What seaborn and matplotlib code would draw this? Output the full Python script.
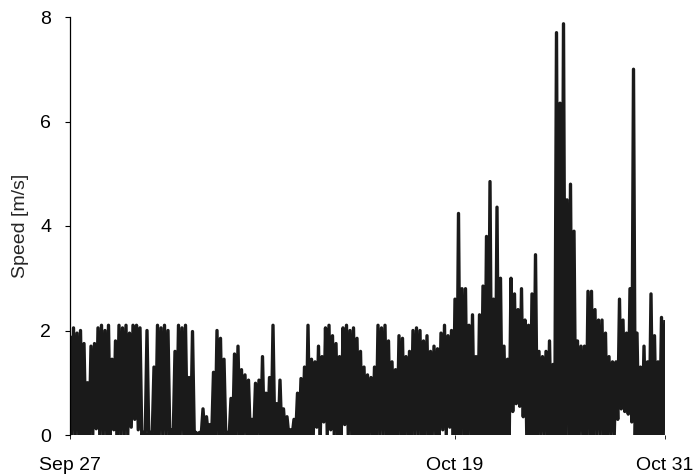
import numpy as np
import pandas as pd
import matplotlib
matplotlib.use("Agg")
import matplotlib.pyplot as plt
import seaborn as sns

# ---- data ----
start_date = "2012-09-27"
end_date = "2012-10-31"
# upper swing of the speed signal, one value every 0.2 day
peak_speed = [
    1.9, 2.05, 1.95, 2.0, 1.75, 1.0, 1.7, 1.75, 2.05, 2.1,
    2.0, 2.1, 1.45, 1.8, 2.1, 2.05, 2.1, 1.95, 2.1, 2.1,
    2.05, 0.05, 2.0, 0.05, 1.3, 2.1, 2.05, 2.1, 2.0, 0.1,
    1.6, 2.1, 2.05, 2.1, 1.1, 1.98, 0.05, 0.05, 0.5, 0.35,
    0.2, 1.2, 2.0, 1.85, 1.45, 0.05, 0.7, 1.55, 1.7, 1.25,
    1.15, 1.05, 0.3, 0.99, 1.05, 1.5, 0.8, 1.1, 2.1, 0.6,
    1.05, 0.5, 0.35, 0.1, 0.3, 0.8, 1.08, 1.3, 2.1, 1.45,
    1.4, 1.7, 1.5, 2.05, 2.1, 1.9, 1.75, 1.5, 2.05, 2.1,
    2.0, 2.05, 1.85, 1.6, 1.3, 1.15, 1.1, 1.3, 2.1, 2.05,
    2.1, 1.8, 1.4, 1.25, 1.9, 1.85, 1.5, 1.6, 2.0, 2.05,
    2.0, 1.8, 1.9, 1.6, 1.7, 1.65, 1.95, 2.1, 1.9, 2.0,
    2.6, 4.24, 2.8, 2.8, 2.1, 2.3, 1.5, 2.3, 2.85, 3.8,
    4.85, 2.6, 4.36, 3.0, 1.7, 1.45, 3.0, 2.7, 2.4, 2.8,
    2.2, 2.1, 2.7, 3.45, 1.6, 1.5, 1.6, 1.8, 1.35, 7.7,
    6.35, 7.87, 4.5, 4.8, 3.9, 1.8, 1.7, 1.7, 2.75, 2.75,
    2.4, 2.2, 2.2, 1.95, 1.5, 1.4, 1.4, 2.6, 2.2, 1.95,
    2.8, 7.0, 1.95, 1.3, 1.7, 1.4, 2.7, 1.9, 1.4, 2.25,
    2.2,
]
# lower swing, between consecutive peaks
trough_speed = [
    0.0, 0.0, 0.0, 0.0, 0.0, 0.0, 0.0, 0.12, 0.0, 0.0,
    0.0, 0.0, 0.1, 0.0, 0.0, 0.0, 0.0, 0.15, 0.3, 0.1,
    0.0, 0.0, 0.0, 0.0, 0.0, 0.0, 0.0, 0.0, 0.0, 0.0,
    0.0, 0.0, 0.0, 0.0, 0.0, 0.0, 0.0, 0.0, 0.0, 0.0,
    0.0, 0.0, 0.0, 0.0, 0.0, 0.0, 0.0, 0.0, 0.0, 0.0,
    0.0, 0.0, 0.0, 0.0, 0.0, 0.0, 0.0, 0.0, 0.0, 0.0,
    0.0, 0.0, 0.0, 0.0, 0.0, 0.0, 0.0, 0.0, 0.0, 0.0,
    0.15, 0.0, 0.25, 0.0, 0.1, 0.0, 0.0, 0.0, 0.2, 0.0,
    0.0, 0.0, 0.0, 0.0, 0.0, 0.0, 0.0, 0.0, 0.0, 0.0,
    0.0, 0.0, 0.0, 0.0, 0.0, 0.0, 0.0, 0.0, 0.0, 0.0,
    0.0, 0.0, 0.0, 0.0, 0.0, 0.0, 0.1, 0.0, 0.15, 0.0,
    0.0, 0.0, 0.0, 0.0, 0.0, 0.0, 0.0, 0.0, 0.0, 0.0,
    0.0, 0.0, 0.0, 0.0, 0.0, 0.0, 0.45, 0.6, 0.55, 0.35,
    0.0, 0.0, 0.0, 0.0, 0.0, 0.0, 0.0, 0.0, 0.0, 0.0,
    0.0, 0.0, 0.0, 0.0, 0.0, 0.0, 0.0, 0.0, 0.0, 0.0,
    0.0, 0.0, 0.0, 0.0, 0.0, 0.0, 0.3, 0.5, 0.45, 0.4,
    0.25, 0.0, 0.0, 0.0, 0.0, 0.0, 0.0, 0.0, 0.0, 0.0,
]
tick_dates = ["2012-09-27", "2012-10-19", "2012-10-31"]
tick_labels = ["Sep 27", "Oct 19", "Oct 31"]
y_ticks = [0, 2, 4, 6, 8]
y_label = "Speed [m/s]"

# ---- build the time series table ----
t0 = pd.Timestamp(start_date)
step = pd.Timedelta(hours=4.8)
peak_time = pd.DatetimeIndex([t0 + i * step for i in range(len(peak_speed))])
trough_time = pd.DatetimeIndex([t0 + i * step + step / 2 for i in range(len(trough_speed))])
df = pd.DataFrame({
    "time": peak_time.append(trough_time),
    "speed": peak_speed + trough_speed,
}).sort_values("time").reset_index(drop=True)

# ---- plot ----
sns.set_style("ticks")
plt.rcParams["font.family"] = ["Liberation Sans", "DejaVu Sans"]

fig = plt.figure(figsize=(6.94, 4.75), dpi=100)
ax = fig.add_axes([70 / 694, 40 / 475, 595 / 694, 418 / 475])
sns.lineplot(data=df, x="time", y="speed", ax=ax, color="#1a1a1a",
             linewidth=2.4, estimator=None, sort=True)
for ln in ax.get_lines():
    ln.set_solid_joinstyle("round")
    ln.set_solid_capstyle("butt")

ax.set_xlim(t0, pd.Timestamp(end_date))
ax.set_ylim(0, 8)
ax.set_xticks(pd.to_datetime(tick_dates))
ax.set_xticklabels(tick_labels)
ax.set_yticks(y_ticks)
ax.set_yticklabels([str(v) for v in y_ticks])
ax.set_xlabel("")
ax.set_ylabel(y_label, fontsize=14, labelpad=8)

for s in ["top", "right", "bottom"]:
    ax.spines[s].set_visible(False)
ax.spines["left"].set_linewidth(0.9)
ax.spines["left"].set_color("black")
ax.tick_params(axis="y", length=3.6, width=0.8, pad=10, labelsize=14, colors="black")
ax.tick_params(axis="x", length=3, width=0.6, pad=13, labelsize=14, colors="black")

fig.savefig("out.png", dpi=100)
